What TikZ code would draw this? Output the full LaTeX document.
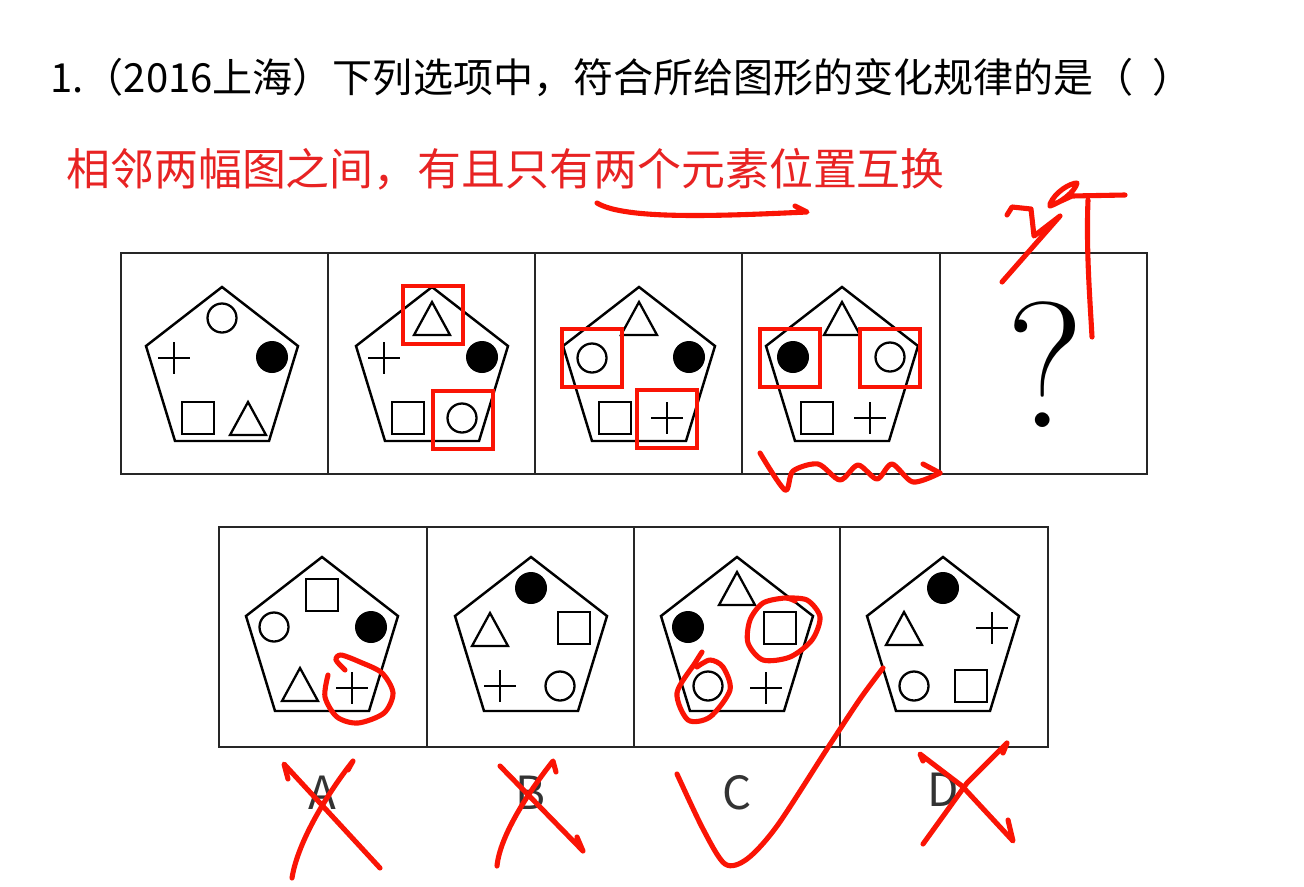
\documentclass[tikz,border=0pt]{standalone}
\usepackage{fontspec}
\newfontfamily\cjk{Noto Sans CJK SC}
\usetikzlibrary{positioning}
\definecolor{inkred}{RGB}{250,20,5}
\definecolor{textred}{RGB}{232,35,35}

\begin{document}
\begin{tikzpicture}[x=0.02cm, y=-0.02cm]
\tikzstyle{panel}=[draw=black!85, line width=1.6pt, minimum height=44.2mm, inner sep=0pt]
\tikzstyle{ring}=[draw, circle, line width=1.3pt, minimum size=5.8mm, inner sep=0pt]
\tikzstyle{dot}=[circle, fill=black, minimum size=6.4mm, inner sep=0pt]
\tikzstyle{sq}=[draw, rectangle, line width=1.3pt, minimum size=6.4mm, inner sep=0pt]
\tikzstyle{swapbox}=[draw=inkred, line width=2pt, minimum width=12mm, minimum height=11.6mm, inner sep=0pt]
\tikzstyle{ink}=[draw=inkred, line width=2.9pt, line cap=round, line join=round]
\tikzstyle{letter}=[font=\cjk\fontsize{26}{26}\selectfont, text=black!80, inner sep=0pt]
\tikzset{
  pentagon/.pic={\draw[line width=1.4pt, line join=miter] (0,0) -- (76,59) -- (47,154) -- (-47,154) -- (-76,59) -- cycle;},
  trisign/.pic={\draw[line width=1.3pt, line join=miter] (0,-16) -- (18,17) -- (-18,17) -- cycle;},
  plussign/.pic={\draw[line width=1.3pt] (-16,0) -- (16,0) (0,-16) -- (0,16);}
}

\fill[white] (0,0) rectangle (1304,886);
\useasboundingbox (0,0) rectangle (1304,886);

\node[anchor=west, inner sep=0pt, font=\cjk\fontsize{22.8}{24}\selectfont] (question) at (50,77) {1.（2016上海）下列选项中，符合所给图形的变化规律的是（~~）};
\node[anchor=west, inner sep=0pt, text=textred, font=\cjk\fontsize{25}{27}\selectfont] (rule) at (66,169) {相邻两幅图之间，有且只有两个元素位置互换};

\node[panel, minimum width=41.4mm] (fig1) at (224.5,363.5) {};
\node[panel, minimum width=41.4mm] (fig2) at (431.5,363.5) {};
\node[panel, minimum width=41.4mm] (fig3) at (638.5,363.5) {};
\node[panel, minimum width=39.6mm] (fig4) at (841,363.5) {};
\node[panel, minimum width=41.4mm] (fig5) at (1043.5,363.5) {};
\node[font=\fontsize{102}{102}\selectfont, inner sep=0pt] (unknown) at (1045,365) {?};

\node[panel, minimum width=41.6mm, minimum height=44mm] (optA) at (323,637) {};
\node[panel, minimum width=41.4mm, minimum height=44mm] (optB) at (530.5,637) {};
\node[panel, minimum width=41.2mm, minimum height=44mm] (optC) at (737,637) {};
\node[panel, minimum width=41.6mm, minimum height=44mm] (optD) at (944,637) {};

\begin{scope}[shift={(222,287)}]
\pic {pentagon};
\node[ring] (f1t) at (0,31) {};
\pic at (-48,71) {plussign};
\node[dot] (f1r) at (50,70) {};
\node[sq] (f1bl) at (-24,131) {};
\pic at (26,131) {trisign};
\end{scope}

\begin{scope}[shift={(432,287)}]
\pic {pentagon};
\pic at (0,31) {trisign};
\pic at (-48,71) {plussign};
\node[dot] (f2r) at (50,70) {};
\node[sq] (f2bl) at (-24,131) {};
\node[ring] (f2br) at (30,131) {};
\node[swapbox] (s2t) at (1,28) {};
\node[swapbox] (s2br) at (31,133) {};
\end{scope}

\begin{scope}[shift={(639,287)}]
\pic {pentagon};
\pic at (0,31) {trisign};
\node[ring] (f3l) at (-47,71) {};
\node[dot] (f3r) at (50,70) {};
\node[sq] (f3bl) at (-24,131) {};
\pic at (28,131) {plussign};
\node[swapbox] (s3l) at (-47,71) {};
\node[swapbox] (s3br) at (28,132) {};
\end{scope}

\begin{scope}[shift={(842,287)}]
\pic {pentagon};
\pic at (0,31) {trisign};
\node[dot] (f4l) at (-49,70) {};
\node[ring] (f4r) at (48,70) {};
\node[sq] (f4bl) at (-25,131) {};
\pic at (28,131) {plussign};
\node[swapbox] (s4l) at (-52,71) {};
\node[swapbox] (s4r) at (48,71) {};
\end{scope}

\begin{scope}[shift={(322,557)}]
\pic {pentagon};
\node[sq] (atop) at (0,38) {};
\node[ring] (al) at (-48,70) {};
\node[dot] (ar) at (49,70) {};
\pic at (-22,127) {trisign};
\pic at (30,131) {plussign};
\end{scope}

\begin{scope}[shift={(531,557)}]
\pic {pentagon};
\node[dot] (btop) at (0,31) {};
\pic at (-41,72) {trisign};
\node[sq] (br) at (43,71) {};
\pic at (-31,129) {plussign};
\node[ring] (bbr) at (29,129) {};
\end{scope}

\begin{scope}[shift={(737,557)}]
\pic {pentagon};
\pic at (0,31) {trisign};
\node[dot] (cl) at (-49,70) {};
\node[sq] (cr) at (43,71) {};
\node[ring] (cbl) at (-29,129) {};
\pic at (29,131) {plussign};
\end{scope}

\begin{scope}[shift={(943,557)}]
\pic {pentagon};
\node[dot] (dtop) at (0,31) {};
\pic at (-39,71) {trisign};
\pic at (49,71) {plussign};
\node[ring] (dbl) at (-29,129) {};
\node[sq] (dbr) at (28,129) {};
\end{scope}

\node[letter] (labA) at (322,793) {A};
\node[letter] (labB) at (530,793) {B};
\node[letter] (labC) at (737,793) {C};
\node[letter] (labD) at (943,790) {D};

\draw[ink] (597,203) .. controls (625,220) and (720,216) .. (807,212) -- (795,206);
\draw[ink] plot[smooth, tension=0.5] coordinates {(760,453) (785,490) (793,471) (818,464) (840,480) (858,465) (877,479) (892,464) (913,482) (940,473)};
\draw[ink] (923,464) -- (940,473);

\draw[ink] (1007,215) -- (1012,207) -- (1031,209) -- (1034,236) -- (1060,216) -- (1002,282);
\draw[ink] (1050,204) .. controls (1055,192) and (1070,183) .. (1077,183) .. controls (1075,192) and (1060,203) .. (1050,206) -- (1072,196) -- (1125,195);
\draw[ink] (1088,200) .. controls (1086,250) and (1090,300) .. (1092,337);

\draw[ink] plot[smooth] coordinates {(345,670) (336,660) (341,655) (360,662) (382,673) (393,693) (384,713) (358,723) (337,717) (325,697) (328,675)};
\draw[ink] plot[smooth] coordinates {(702,652) (695,663) (677,693) (688,720) (710,717) (730,690) (723,667) (710,660) (697,667)};
\draw[ink] plot[smooth] coordinates {(785,598) (807,600) (820,617) (812,640) (790,657) (763,660) (748,643) (750,620) (763,603) (785,598) (795,601)};

\draw[ink] (288,779) -- (284,764) -- (380,868);
\draw[ink] (348,770) -- (353,761) .. controls (330,790) and (298,840) .. (292,878);
\draw[ink] (500,766) -- (583,851) -- (577,837);
\draw[ink] (556,772) -- (553,761) .. controls (530,790) and (500,835) .. (497,866);
\draw[ink] plot[smooth] coordinates {(677,774) (703,829) (725,864) (747,859) (777,826) (827,749) (860,699) (883,668)};
\draw[ink] (923,761) -- (920,754) -- (962,786) -- (1013,841) -- (1008,820);
\draw[ink] (1003,753) -- (1007,743) -- (967,783) -- (923,844);

\end{tikzpicture}
\end{document}
